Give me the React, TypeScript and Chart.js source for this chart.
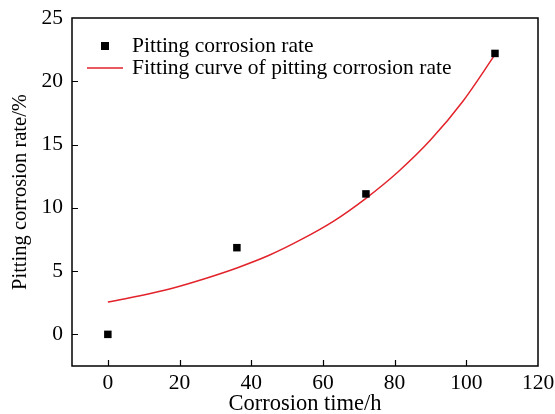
import React, { useEffect, useRef } from "react";
import { Chart, registerables } from "chart.js";

Chart.register(...registerables);

const timeHours = [0, 36, 72, 108];
const pittingRate = [0, 6.85, 11.1, 22.2];

const fitTimes = [0, 9, 18, 27, 36, 45, 54, 63, 72, 81, 90, 99, 108];
const fitRate = [2.55, 3.05, 3.65, 4.4, 5.25, 6.25, 7.5, 8.95, 10.75, 12.85, 15.35, 18.4, 22.1];

const xTickValues = [0, 20, 40, 60, 80, 100, 120];
const yTickValues = [0, 5, 10, 15, 20, 25];

const seriesLabels = ["Pitting corrosion rate", "Fitting curve of pitting corrosion rate"];
const xTitle = "Corrosion time/h";
const yTitle = "Pitting corrosion rate/%";

const FONT = "'Liberation Serif', 'Times New Roman', serif";
const RED = "#e2232b";

const framePlugin = {
  id: "frameAndLegend",
  afterDraw(chart: any) {
    const { ctx, chartArea } = chart;
    const { left, right, top, bottom } = chartArea;
    const xs = chart.scales.x;
    const ys = chart.scales.y;
    ctx.save();
    ctx.strokeStyle = "#000";
    ctx.lineWidth = 1.5;
    ctx.strokeRect(left, top, right - left, bottom - top);
    ctx.lineWidth = 1.2;
    ctx.beginPath();
    xTickValues.forEach((v) => {
      const px = Math.round(xs.getPixelForValue(v)) + 0.5;
      if (px > left + 2 && px < right - 2) {
        ctx.moveTo(px, bottom);
        ctx.lineTo(px, bottom - 6);
      }
    });
    yTickValues.forEach((v) => {
      const py = Math.round(ys.getPixelForValue(v)) + 0.5;
      if (py > top + 2 && py < bottom - 2) {
        ctx.moveTo(left, py);
        ctx.lineTo(left + 6, py);
      }
    });
    ctx.stroke();

    // legend
    const lx = left;
    const ly = top;
    ctx.fillStyle = "#000";
    ctx.fillRect(lx + 29, ly + 24, 8, 8);
    ctx.strokeStyle = RED;
    ctx.lineWidth = 1.3;
    ctx.beginPath();
    ctx.moveTo(lx + 15, ly + 50);
    ctx.lineTo(lx + 51, ly + 50);
    ctx.stroke();
    ctx.font = `21.5px ${FONT}`;
    ctx.textBaseline = "middle";
    ctx.textAlign = "left";
    ctx.fillStyle = "#000";
    ctx.fillText(chart.data.datasets[0].label, lx + 60, ly + 28);
    ctx.fillText(chart.data.datasets[1].label, lx + 60, ly + 50);
    ctx.restore();
  },
};

export default function App() {
  const ref = useRef<HTMLCanvasElement | null>(null);
  useEffect(() => {
    document.body.style.margin = "0";
    if (!ref.current) return;
    const chart = new Chart(ref.current, {
      type: "scatter",
      data: {
        datasets: [
          {
            label: seriesLabels[0],
            data: timeHours.map((x, i) => ({ x, y: pittingRate[i] })),
            pointStyle: "rect",
            pointRadius: 5.3,
            backgroundColor: "#000",
            borderColor: "#000",
            borderWidth: 0,
            showLine: false,
            order: 0,
          },
          {
            label: seriesLabels[1],
            data: fitTimes.map((x, i) => ({ x, y: fitRate[i] })),
            showLine: true,
            pointRadius: 0,
            borderColor: RED,
            borderWidth: 1.5,
            cubicInterpolationMode: "monotone",
            fill: false,
            order: 1,
          },
        ],
      },
      options: {
        responsive: false,
        animation: false,
        events: [],
        layout: { padding: { top: 18, right: 17, left: 0, bottom: 0 } },
        plugins: { legend: { display: false }, tooltip: { enabled: false } },
        scales: {
          x: {
            type: "linear",
            min: -10,
            max: 120,
            grid: { display: false, drawTicks: false },
            border: { display: false },
            afterBuildTicks: (s: any) => {
              s.ticks = xTickValues.map((v) => ({ value: v }));
            },
            afterFit: (s: any) => {
              s.height = 48;
              s.paddingRight = 0;
              s.paddingLeft = 0;
            },
            ticks: {
              color: "#000",
              padding: 4,
              maxRotation: 0,
              autoSkip: false,
              font: { family: FONT, size: 21.5 },
            },
            title: {
              display: true,
              text: xTitle,
              color: "#000",
              font: { family: FONT, size: 22.5, lineHeight: 0.9 },
              padding: { top: 0, bottom: 0 },
            },
          },
          y: {
            type: "linear",
            min: -2.5,
            max: 25,
            grid: { display: false, drawTicks: false },
            border: { display: false },
            afterBuildTicks: (s: any) => {
              s.ticks = yTickValues.map((v) => ({ value: v }));
            },
            afterFit: (s: any) => {
              s.width = 72;
              s.paddingTop = 0;
              s.paddingBottom = 0;
            },
            ticks: {
              color: "#000",
              padding: 9,
              autoSkip: false,
              font: { family: FONT, size: 21.5 },
            },
            title: {
              display: true,
              text: yTitle,
              color: "#000",
              font: { family: FONT, size: 20.5, lineHeight: 1.2 },
              padding: { top: 8, bottom: 0 },
            },
          },
        },
      },
      plugins: [framePlugin],
    });
    return () => chart.destroy();
  }, []);
  return (
    <div style={{ width: 555, height: 414, background: "#fff" }}>
      <canvas ref={ref} width={555} height={414} style={{ display: "block" }} />
    </div>
  );
}
